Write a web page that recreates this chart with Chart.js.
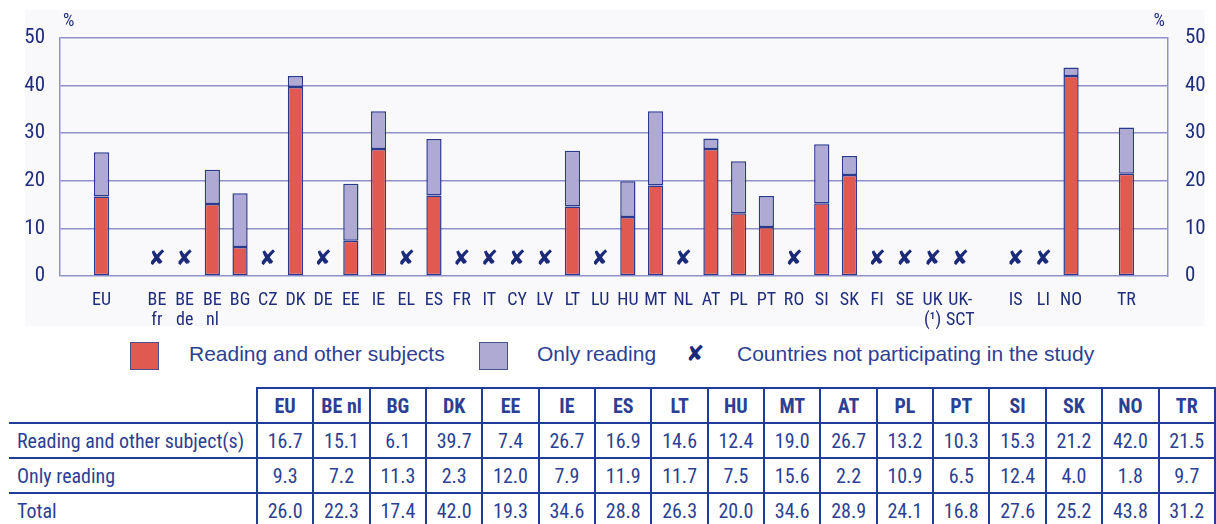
<!DOCTYPE html>
<html>
<head>
<meta charset="utf-8">
<script src="https://cdn.jsdelivr.net/npm/chart.js@4"></script>
<style>
  body { margin: 0; background: #fff; width: 1216px; height: 524px; overflow: hidden; position: relative; }
  #wrap { position: absolute; left: 0; top: 0; width: 1216px; height: 330px; }
  .panel { position: absolute; left: 25px; top: 10px; width: 1180px; height: 316px; background: #f9f9fc; }
  canvas { position: relative; }
  .lg { position: absolute; font-family: "Liberation Sans", Arial, sans-serif; font-size: 21px; color: #2d3f93; white-space: nowrap; }
  .box { position: absolute; width: 27px; height: 26px; border: 1px solid #4a4f8e; }
  table { position: absolute; left: 9px; top: 387px; width: 1207px; border-collapse: collapse; table-layout: fixed;
          font-family: "Roboto Condensed", sans-serif; font-size: 20px; color: #2d3f93; }
  td, th { height: 33px; padding: 0; text-align: center; border: 2px solid #1f3c98; white-space: nowrap; }
  th { font-weight: bold; }
  td.lab, th.lab { text-align: left; padding-left: 8px; border-left: none; width: 239px; }
  th.lab { border-top: none; }
</style>
</head>
<body>
<div id="wrap">
  <div class="panel"></div>
  <canvas id="chart" width="1216" height="330"></canvas>
</div>
<div class="box" style="left:130px;top:342px;background:#e05a52"></div>
<div class="lg" style="left:189px;top:342px">Reading and other subjects</div>
<div class="box" style="left:479px;top:342px;background:#aeaad4"></div>
<div class="lg" style="left:537px;top:342px">Only reading</div>
<div class="lg" style="left:686px;top:341px;font-family:'DejaVu Sans';font-weight:bold;font-size:22px;color:#1b2a78">✘</div>
<div class="lg" style="left:737px;top:342px">Countries not participating in the study</div>
<table id="tbl"></table>
<script>
// Eixo X: '' = espaço vazio, arrays = rótulo em duas linhas
const axisLabels = ['', 'EU', '', ['BE', 'fr'], ['BE', 'de'], ['BE', 'nl'], 'BG', 'CZ', 'DK', 'DE', 'EE', 'IE',
    'EL', 'ES', 'FR', 'IT', 'CY', 'LV', 'LT', 'LU', 'HU', 'MT', 'NL', 'AT', 'PL', 'PT', 'RO', 'SI', 'SK',
    'FI', 'SE', ['UK', '(¹)'], ['UK-', 'SCT'], '', 'IS', 'LI', 'NO', '', 'TR', ''];

// Dados da tabela (países participantes)
const tableCodes = ['EU', 'BE nl', 'BG', 'DK', 'EE', 'IE', 'ES', 'LT', 'HU', 'MT', 'AT', 'PL', 'PT', 'SI', 'SK', 'NO', 'TR'];
const readingOther = [16.7, 15.1, 6.1, 39.7, 7.4, 26.7, 16.9, 14.6, 12.4, 19.0, 26.7, 13.2, 10.3, 15.3, 21.2, 42.0, 21.5];
const onlyReading = [9.3, 7.2, 11.3, 2.3, 12.0, 7.9, 11.9, 11.7, 7.5, 15.6, 2.2, 10.9, 6.5, 12.4, 4.0, 1.8, 9.7];
const totals = [26.0, 22.3, 17.4, 42.0, 19.3, 34.6, 28.8, 26.3, 20.0, 34.6, 28.9, 24.1, 16.8, 27.6, 25.2, 43.8, 31.2];

const yTicks = [0, 10, 20, 30, 40, 50];
const crossLevel = 3.4; // altura do símbolo ✘ (em %)

const textColor = '#1f2d7c';
const gridColor = '#8f92c9';
const narrow = '"Roboto Condensed", sans-serif';

function codeOf(label) {
    return Array.isArray(label) ? label.join(' ') : label;
}

function seriesFor(values) {
    return axisLabels.map(l => {
        const i = tableCodes.indexOf(codeOf(l));
        return i >= 0 ? values[i] : null;
    });
}

// Países que não participaram: rótulo preenchido mas sem dados
const absentIdx = axisLabels
    .map((l, i) => (codeOf(l) !== '' && tableCodes.indexOf(codeOf(l)) < 0) ? i : -1)
    .filter(i => i >= 0);

// Plugin para o ✘ e o símbolo %
const extrasPlugin = {
    id: 'extras',
    afterDatasetsDraw(chart) {
        const ctx = chart.ctx;
        const x = chart.scales.x;
        const y = chart.scales.y;
        ctx.save();
        ctx.fillStyle = '#1b2a78';
        ctx.font = 'bold 21px "DejaVu Sans"';
        ctx.textAlign = 'center';
        ctx.textBaseline = 'middle';
        absentIdx.forEach(i => {
            ctx.fillText('✘', x.getPixelForValue(i), y.getPixelForValue(crossLevel));
        });
        ctx.font = '18px ' + narrow;
        ctx.fillStyle = textColor;
        ctx.textBaseline = 'alphabetic';
        const area = chart.chartArea;
        ctx.textAlign = 'left';
        ctx.fillText('%', area.left + 3, area.top - 12);
        ctx.textAlign = 'right';
        ctx.fillText('%', area.right - 3, area.top - 12);
        ctx.restore();
    }
};

const barStyle = {
    borderColor: '#2c3a8e',
    borderWidth: 1.5,
    borderSkipped: false,
    barPercentage: 0.55,
    categoryPercentage: 1
};

const ctx = document.getElementById('chart').getContext('2d');
new Chart(ctx, {
    type: 'bar',
    data: {
        labels: axisLabels,
        datasets: [
            Object.assign({ label: 'Reading and other subjects', data: seriesFor(readingOther), backgroundColor: '#e05a52' }, barStyle),
            Object.assign({ label: 'Only reading', data: seriesFor(onlyReading), backgroundColor: '#aeaad4' }, barStyle)
        ]
    },
    options: {
        responsive: false,
        animation: false,
        layout: { padding: { top: 38, left: 0, right: 0, bottom: 0 } },
        plugins: { legend: { display: false }, tooltip: { enabled: false } },
        scales: {
            x: {
                stacked: true,
                grid: { display: false },
                border: { display: false },
                ticks: {
                    autoSkip: false, maxRotation: 0, padding: 6, color: textColor,
                    font: { family: narrow, size: 18, lineHeight: 1.12 }
                },
                afterFit: s => { s.height = 54; }
            },
            y: {
                stacked: true,
                min: 0, max: 50,
                afterBuildTicks: s => { s.ticks = yTicks.map(v => ({ value: v })); },
                grid: { color: gridColor, lineWidth: 1.5, drawTicks: false },
                border: { display: true, color: gridColor, width: 1.5 },
                ticks: { padding: 15, color: textColor, font: { family: narrow, size: 21 } },
                afterFit: s => { s.width = 60; }
            },
            y2: {
                position: 'right',
                min: 0, max: 50,
                afterBuildTicks: s => { s.ticks = yTicks.map(v => ({ value: v })); },
                grid: { display: false, drawTicks: false },
                border: { display: true, color: gridColor, width: 1.5 },
                ticks: { padding: 17, color: textColor, font: { family: narrow, size: 21 } },
                afterFit: s => { s.width = 48; }
            }
        }
    },
    plugins: [extrasPlugin]
});

// Tabela
function buildTable() {
    const tbl = document.getElementById('tbl');
    let html = '<tr><th class="lab"></th>' + tableCodes.map(c => '<th>' + c + '</th>').join('') + '</tr>';
    const rows = [
        ['Reading and other subject(s)', readingOther],
        ['Only reading', onlyReading],
        ['Total', totals]
    ];
    rows.forEach(r => {
        html += '<tr><td class="lab">' + r[0] + '</td>' + r[1].map(v => '<td>' + v.toFixed(1) + '</td>').join('') + '</tr>';
    });
    tbl.innerHTML = html;
}
buildTable();
</script>
</body>
</html>
